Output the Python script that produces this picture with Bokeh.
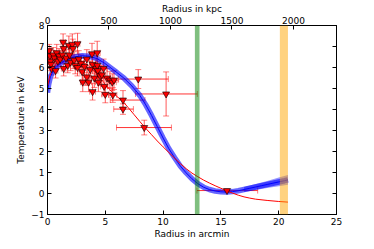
from bokeh.plotting import figure
from bokeh.models import (ColumnDataSource, Range1d, LinearAxis, Whisker, TeeHead,
                          BoxAnnotation, FixedTicker, CustomJSTickFormatter)
from bokeh.embed import file_html
from bokeh.resources import INLINE

# ---------------- data ----------------
# measured temperature profile (arcmin, keV)
r = [0.15, 0.2, 0.25, 0.3, 0.35, 0.5, 0.6, 0.7, 0.8, 0.9, 1.0, 1.1, 1.3, 1.35, 1.4, 1.4,
     1.6, 1.75, 1.85, 1.9, 2.0, 2.15, 2.2, 2.3, 2.4, 2.6, 2.6, 2.7, 2.9, 3.0, 3.05, 3.2,
     3.4, 3.4, 3.55, 3.7, 3.85, 3.9, 3.9, 4.05, 4.2, 4.3, 4.3, 4.35, 4.4, 4.55, 4.7, 4.85,
     4.9, 5.0, 5.15, 5.4, 5.6, 5.65, 5.75, 6.53, 6.53, 7.85, 8.37, 10.26, 15.53]
t = [6.8, 6.55, 6.3, 6.15, 5.95, 6.6, 6.45, 5.85, 6.7, 6.3, 6.55, 6.4, 6.6, 7.2, 6.9, 5.95,
     6.45, 6.1, 7.05, 6.6, 6.25, 7.1, 6.9, 6.35, 6.1, 7.13, 6.0, 6.4, 6.2, 5.8, 5.3, 6.05,
     6.4, 5.55, 5.3, 5.9, 6.65, 6.15, 4.85, 5.5, 5.95, 6.7, 6.1, 5.85, 5.3, 5.6, 5.65, 5.95,
     5.1, 4.72, 5.5, 5.4, 5.3, 4.69, 5.4, 4.45, 4.02, 5.45, 3.14, 4.74, 0.14]
r_err_lo = [0.15, 0.15, 0.15, 0.15, 0.15, 0.2, 0.2, 0.2, 0.2, 0.2, 0.2, 0.2, 0.2, 0.2, 0.2, 0.2,
            0.2, 0.2, 0.2, 0.2, 0.2, 0.2, 0.2, 0.2, 0.2, 0.2, 0.2, 0.2, 0.2, 0.2, 0.2, 0.2,
            0.25, 0.25, 0.25, 0.25, 0.25, 0.25, 0.25, 0.25, 0.25, 0.25, 0.25, 0.25, 0.25, 0.25, 0.3, 0.3,
            0.3, 0.3, 0.3, 0.35, 0.35, 0.35, 0.35, 1.1, 0.8, 1.7, 2.4, 2.65, 2.6]
r_err_hi = [0.15, 0.15, 0.15, 0.15, 0.15, 0.2, 0.2, 0.2, 0.2, 0.2, 0.2, 0.2, 0.2, 0.2, 0.2, 0.2,
            0.2, 0.2, 0.2, 0.2, 0.2, 0.2, 0.2, 0.2, 0.2, 0.2, 0.2, 0.2, 0.2, 0.2, 0.2, 0.2,
            0.25, 0.25, 0.25, 0.25, 0.25, 0.25, 0.25, 0.25, 0.25, 0.25, 0.25, 0.25, 0.25, 0.25, 0.3, 0.3,
            0.3, 0.3, 0.3, 0.35, 0.35, 0.35, 0.35, 1.9, 0.9, 2.6, 2.35, 2.7, 2.65]
t_err = [0.3, 0.35, 0.35, 0.3, 0.3, 0.35, 0.35, 0.35, 0.4, 0.35, 0.35, 0.35, 0.4, 0.4, 0.4, 0.35,
         0.4, 0.35, 0.45, 0.4, 0.4, 0.5, 0.45, 0.4, 0.4, 0.5, 0.4, 0.4, 0.4, 0.4, 0.45, 0.4,
         0.45, 0.4, 0.45, 0.4, 0.5, 0.45, 0.4, 0.45, 0.45, 0.55, 0.45, 0.45, 0.45, 0.45, 0.45, 0.45,
         0.45, 0.4, 0.45, 0.4, 0.4, 0.35, 0.45, 0.45, 0.25, 0.45, 0.35, 1.05, 0.06]

# red model curve
red_r = [0.0, 0.2, 0.5, 1.0, 1.5, 2.0, 2.5, 3.0, 3.5, 4.0, 4.5, 5.0, 5.5, 6.0, 6.5, 7.0, 7.5,
         8.0, 8.5, 9.0, 9.5, 10.0, 10.5, 11.0, 11.5, 12.0, 12.5, 13.0, 13.5, 14.0, 14.5, 15.0,
         15.5, 16.0, 16.5, 17.0, 17.5, 18.0, 19.0, 20.0, 20.8]
red_t = [5.1, 5.6, 6.0, 6.3, 6.42, 6.45, 6.4, 6.28, 6.1, 5.85, 5.55, 5.2, 4.88, 4.62, 4.4, 4.08,
         3.75, 3.42, 3.1, 2.8, 2.5, 2.22, 1.95, 1.68, 1.42, 1.18, 0.97, 0.8, 0.64, 0.5, 0.37, 0.25,
         0.13, 0.02, -0.08, -0.16, -0.22, -0.27, -0.33, -0.38, -0.41]

# blue model curve (best fit) and its uncertainty at the outer end
blue_r = [0.0, 0.1, 0.25, 0.5, 0.8, 1.2, 1.7, 2.3, 3.0, 3.6, 4.3, 4.9, 5.5, 6.0, 6.6, 7.3, 8.0,
          8.5, 9.0, 9.5, 10.0, 10.5, 11.0, 11.5, 12.0, 12.5, 13.0, 13.5, 14.0, 14.5, 15.0, 15.5,
          16.0, 16.5, 17.0, 17.5, 18.0, 18.5, 19.0, 19.5, 20.0, 20.5, 20.8]
blue_t = [4.8, 5.2, 5.55, 5.85, 6.05, 6.22, 6.38, 6.5, 6.56, 6.54, 6.42, 6.22, 5.97, 5.76, 5.5,
          5.12, 4.66, 4.22, 3.72, 3.18, 2.64, 2.13, 1.7, 1.3, 0.98, 0.7, 0.47, 0.3, 0.19, 0.12,
          0.08, 0.07, 0.09, 0.13, 0.19, 0.25, 0.31, 0.37, 0.43, 0.49, 0.55, 0.61, 0.65]
band_r = [17.0, 18.0, 19.0, 20.0, 20.8]
band_lo = [0.07, 0.17, 0.26, 0.35, 0.42]
band_hi = [0.31, 0.45, 0.6, 0.76, 0.88]

# marked radii (arcmin)
green_band = [12.75, 13.15]
orange_band = [20.1, 20.8]

kpc_per_arcmin = 94.0
x_ticks = [0, 5, 10, 15, 20, 25]
y_ticks = [-1, 0, 1, 2, 3, 4, 5, 6, 7, 8]
kpc_ticks = [0, 500, 1000, 1500, 2000]

# ---------------- figure ----------------
FONT = "DejaVu Sans"
FS = "9px"

p = figure(width=366, height=241, x_range=Range1d(0, 25), y_range=Range1d(-1, 8),
           output_backend="svg", toolbar_location=None,
           min_border_left=47, min_border_right=30, min_border_top=0, min_border_bottom=0)
p.xgrid.visible = False
p.ygrid.visible = False
p.outline_line_color = "black"
p.outline_line_width = 1
p.background_fill_color = "white"
p.border_fill_color = "white"

bottom = p.below[0]
left = p.left[0]

p.extra_x_ranges = {"kpc": Range1d(0, 25 * kpc_per_arcmin)}
p.extra_y_ranges = {"right": Range1d(-1, 8)}

top = LinearAxis(x_range_name="kpc", axis_label="Radius in kpc",
                 ticker=FixedTicker(ticks=kpc_ticks))
right = LinearAxis(y_range_name="right", ticker=FixedTicker(ticks=y_ticks),
                   formatter=CustomJSTickFormatter(code="return ''"))
p.add_layout(top, "above")
p.add_layout(right, "right")

bottom.ticker = FixedTicker(ticks=x_ticks)
left.ticker = FixedTicker(ticks=y_ticks)
bottom.axis_label = "Radius in arcmin"
left.axis_label = "Temperature in keV"
left.major_label_overrides = {-1: "\u22121"}

for ax in [bottom, left, top, right]:
    ax.major_tick_in = 4
    ax.major_tick_out = 0
    ax.minor_tick_line_color = None
    ax.axis_line_color = "black"
    ax.major_tick_line_color = "black"
    ax.major_label_text_font = FONT
    ax.major_label_text_font_size = FS
    ax.major_label_text_color = "black"
    ax.axis_label_text_font = FONT
    ax.axis_label_text_font_size = FS
    ax.axis_label_text_font_style = "normal"
    ax.axis_label_text_color = "black"
    ax.major_label_standoff = 3
    ax.axis_label_standoff = 2
right.major_label_standoff = 0
top.axis_label_standoff = 0
top.major_label_standoff = 2
bottom.major_label_standoff = 3
bottom.axis_label_standoff = 1

# data source
src = ColumnDataSource(dict(
    r=r, t=t,
    rlo=[a - b for a, b in zip(r, r_err_lo)],
    rhi=[a + b for a, b in zip(r, r_err_hi)],
    tlo=[a - b for a, b in zip(t, t_err)],
    thi=[a + b for a, b in zip(t, t_err)],
))

# error bars
ecol = "red"
ealpha = 0.65
wy = Whisker(base="r", lower="tlo", upper="thi", source=src, dimension="height",
             line_color=ecol, line_alpha=ealpha, line_width=1,
             upper_head=TeeHead(size=6, line_color=ecol, line_alpha=0.5),
             lower_head=TeeHead(size=6, line_color=ecol, line_alpha=0.5))
wx = Whisker(base="t", lower="rlo", upper="rhi", source=src, dimension="width",
             line_color=ecol, line_alpha=0.8, line_width=1,
             upper_head=TeeHead(size=6, line_color=ecol, line_alpha=0.5),
             lower_head=TeeHead(size=6, line_color=ecol, line_alpha=0.5))
p.add_layout(wy)
p.add_layout(wx)

# blue model with thick uncertainty band
p.line(blue_r, blue_t, line_color="blue", line_width=5.5, line_alpha=0.6)
p.varea(x=band_r, y1=band_lo, y2=band_hi, fill_color="blue", fill_alpha=0.4)
p.line(blue_r, blue_t, line_color="blue", line_width=1)

# red model
p.line(red_r, red_t, line_color="red", line_width=1)

# markers
p.scatter("r", "t", source=src, marker="inverted_triangle", size=7,
          fill_color="red", line_color="black", line_width=0.6)

# marked radii bands
p.add_layout(BoxAnnotation(left=green_band[0], right=green_band[1],
                           fill_color="green", fill_alpha=0.5, line_color=None))
p.add_layout(BoxAnnotation(left=orange_band[0], right=orange_band[1],
                           fill_color="orange", fill_alpha=0.5, line_color=None))

open("out.html", "w").write(file_html(p, INLINE))
